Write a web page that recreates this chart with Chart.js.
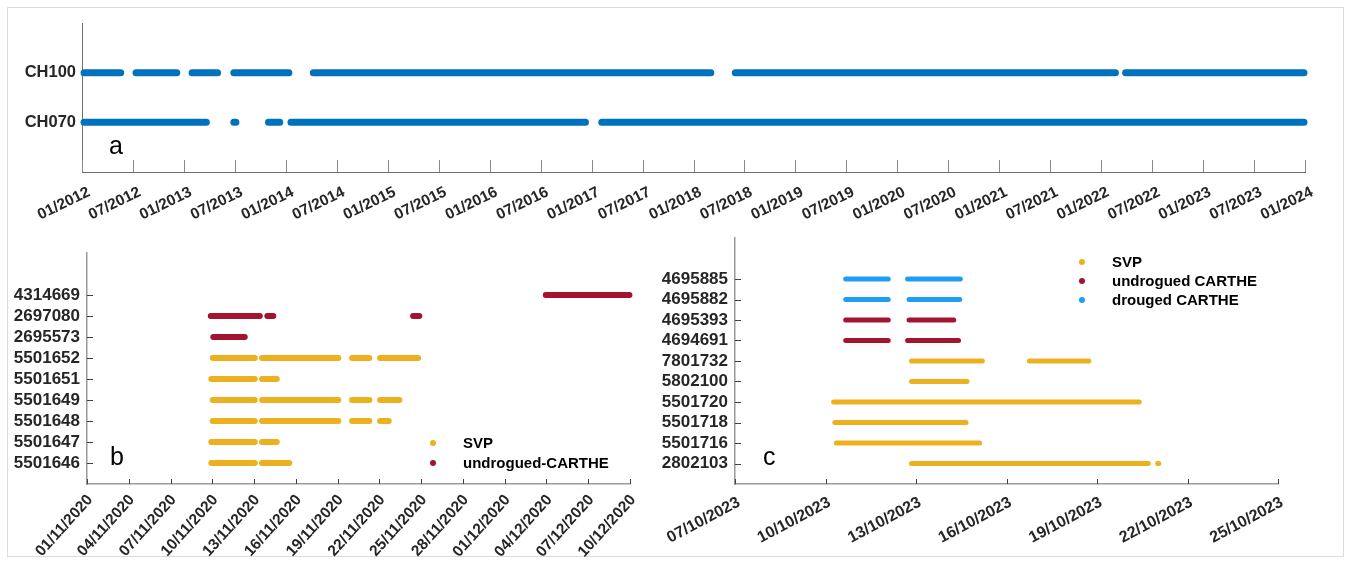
<!DOCTYPE html>
<html>
<head>
<meta charset="utf-8">
<title>Drifter and mooring record coverage</title>
<script src="https://cdn.jsdelivr.net/npm/chart.js@4.4.1/dist/chart.umd.min.js"></script>
<style>
  html, body { margin: 0; padding: 0; background: #ffffff; }
  body { width: 1346px; height: 564px; position: relative; overflow: hidden; }
  #frame { position: absolute; left: 7px; top: 7px; width: 1337px; height: 550px;
           border: 1px solid #dcdcdc; box-sizing: border-box; }
  canvas { position: absolute; }
</style>
</head>
<body>
<div id="frame"></div>
<canvas id="chartA" width="1346" height="230" style="left:0;top:0"></canvas>
<canvas id="chartB" width="680" height="334" style="left:0;top:230px"></canvas>
<canvas id="chartC" width="746" height="334" style="left:600px;top:230px"></canvas>
<script>
// ---------- Panel a: mooring records (x in decimal years) ----------
const aRows = ['CH070', 'CH100'];                       // bottom to top
const ch070Segments = [[2012.02, 2013.22], [2013.49, 2013.51], [2013.83, 2013.94],
                       [2014.05, 2016.94], [2017.10, 2023.99]];
const ch100Segments = [[2012.02, 2012.38], [2012.53, 2012.93], [2013.08, 2013.33],
                       [2013.49, 2014.03], [2014.27, 2018.17], [2018.41, 2022.14],
                       [2022.24, 2023.99]];
const aTickLabels = ['01/2012', '07/2012', '01/2013', '07/2013', '01/2014', '07/2014',
                     '01/2015', '07/2015', '01/2016', '07/2016', '01/2017', '07/2017',
                     '01/2018', '07/2018', '01/2019', '07/2019', '01/2020', '07/2020',
                     '01/2021', '07/2021', '01/2022', '07/2022', '01/2023', '07/2023',
                     '01/2024'];

// ---------- Panel b: drifters, Nov–Dec 2020 (x in days since 01/11/2020) ----------
const bRows = ['5501646', '5501647', '5501648', '5501649', '5501651', '5501652',
               '2695573', '2697080', '4314669'];        // bottom to top
const bTypes = ['SVP', 'SVP', 'SVP', 'SVP', 'SVP', 'SVP',
                'undrogued', 'undrogued', 'undrogued'];
const bSegments = [
  [[8.93, 12.05], [12.57, 14.53]],
  [[8.93, 12.05], [12.57, 13.63]],
  [[9.03, 12.05], [12.57, 18.05], [19.04, 20.28], [21.05, 21.67]],
  [[9.03, 12.05], [12.57, 18.05], [19.04, 20.28], [21.05, 22.44]],
  [[8.93, 12.05], [12.57, 13.63]],
  [[9.03, 12.05], [12.57, 18.05], [19.04, 20.28], [21.05, 23.78]],
  [[9.07, 11.33]],
  [[8.89, 12.41], [12.95, 13.38], [23.42, 23.87]],
  [[32.95, 38.96]]
];
const bTickLabels = ['01/11/2020', '04/11/2020', '07/11/2020', '10/11/2020', '13/11/2020',
                     '16/11/2020', '19/11/2020', '22/11/2020', '25/11/2020', '28/11/2020',
                     '01/12/2020', '04/12/2020', '07/12/2020', '10/12/2020'];
const bLegendLabels = ['SVP', 'undrogued-CARTHE'];
const bLegendTypes = ['SVP', 'undrogued'];

// ---------- Panel c: drifters, Oct 2023 (x in days since 07/10/2023) ----------
const cRows = ['2802103', '5501716', '5501718', '5501720', '5802100', '7801732',
               '4694691', '4695393', '4695882', '4695885']; // bottom to top
const cTypes = ['SVP', 'SVP', 'SVP', 'SVP', 'SVP', 'SVP',
                'undrogued', 'undrogued', 'drouged', 'drouged'];
const cSegments = [
  [[5.85, 13.70], [14.01, 14.05]],
  [[3.36, 8.11]],
  [[3.31, 7.66]],
  [[3.27, 13.40]],
  [[5.85, 7.69]],
  [[5.85, 8.20], [9.76, 11.73]],
  [[3.67, 5.08], [5.72, 7.41]],
  [[3.67, 5.08], [5.77, 7.25]],
  [[3.67, 5.08], [5.77, 7.45]],
  [[3.67, 5.08], [5.72, 7.47]]
];
const cTickLabels = ['07/10/2023', '10/10/2023', '13/10/2023', '16/10/2023',
                     '19/10/2023', '22/10/2023', '25/10/2023'];
const cLegendLabels = ['SVP', 'undrogued CARTHE', 'drouged CARTHE'];
const cLegendTypes = ['SVP', 'undrogued', 'drouged'];

// ---------- styling ----------
const typeColors = { SVP: '#EDB120', undrogued: '#A2142F', drouged: '#1E9EF2', mooring: '#0072BD' };
const FONT = '"Liberation Sans", Arial, Helvetica, sans-serif';
const TEXT = '#262626';
Chart.defaults.font.family = FONT;
Chart.defaults.color = TEXT;

// One line dataset per row; segments are separated by null gaps.
function rowDataset(label, segments, rowValue, color, width) {
  const data = [];
  segments.forEach(([s, e], i) => {
    if (i > 0) data.push({ x: s, y: null });
    data.push({ x: s, y: rowValue }, { x: e, y: rowValue });
  });
  return {
    label, data,
    borderColor: color, backgroundColor: color,
    borderWidth: width, borderCapStyle: 'round', borderJoinStyle: 'round',
    pointRadius: 0, pointHoverRadius: 0, fill: false, tension: 0,
    spanGaps: false, clip: false
  };
}

// Tick marks drawn inward from the axes.
const inwardTicks = {
  id: 'inwardTicks',
  beforeDatasetsDraw(chart, args, opts) {
    const { ctx, chartArea } = chart;
    ctx.save();
    ctx.strokeStyle = opts.color;
    ctx.lineWidth = 1;
    const xs = chart.scales.x;
    xs.ticks.forEach(t => {
      const px = Math.round(xs.getPixelForValue(t.value)) + 0.5;
      ctx.beginPath();
      ctx.moveTo(px, chartArea.bottom);
      ctx.lineTo(px, chartArea.bottom - opts.xLen);
      ctx.stroke();
    });
    if (opts.yLen) {
      const ys = chart.scales.y;
      ys.ticks.forEach(t => {
        const py = Math.round(ys.getPixelForValue(t.value)) + 0.5;
        ctx.beginPath();
        ctx.moveTo(chartArea.left, py);
        ctx.lineTo(chartArea.left + opts.yLen, py);
        ctx.stroke();
      });
    }
    ctx.restore();
  }
};

// Panel letter and marker legend inside the plot area.
const panelText = {
  id: 'panelText',
  afterDraw(chart, args, opts) {
    const { ctx, chartArea } = chart;
    ctx.save();
    ctx.fillStyle = '#000';
    ctx.font = '25px ' + FONT;
    ctx.textBaseline = 'alphabetic';
    ctx.textAlign = 'left';
    ctx.fillText(opts.letter, chartArea.left + opts.letterDx, chartArea.bottom + opts.letterDy);
    if (opts.legend) {
      const L = opts.legend;
      ctx.font = 'bold 15px ' + FONT;
      ctx.textBaseline = 'middle';
      L.labels.forEach((lab, i) => {
        const mx = chartArea.left + L.dx;
        const my = chartArea.top + L.dy + i * L.gap;
        ctx.fillStyle = typeColors[L.types[i]];
        ctx.beginPath();
        ctx.arc(mx, my, 3, 0, Math.PI * 2);
        ctx.fill();
        ctx.fillStyle = '#000';
        ctx.fillText(lab, mx + L.textDx, my + 1);
      });
    }
    ctx.restore();
  }
};

function makeChart(id, cfg) {
  const xMax = cfg.xMin + (cfg.xLabels.length - 1) * cfg.xStep;
  return new Chart(document.getElementById(id), {
    type: 'line',
    data: { datasets: cfg.datasets },
    options: {
      responsive: false,
      animation: false,
      events: [],
      layout: { padding: cfg.padding },
      plugins: {
        legend: { display: false },
        tooltip: { enabled: false },
        inwardTicks: cfg.ticks,
        panelText: cfg.text
      },
      scales: {
        x: {
          type: 'linear', min: cfg.xMin, max: xMax,
          afterBuildTicks: s => { s.ticks = cfg.xLabels.map((_, i) => ({ value: cfg.xMin + i * cfg.xStep })); },
          afterFit: s => { s.height = cfg.xAxisHeight; s.paddingLeft = 0; s.paddingRight = 0; },
          grid: { display: false, drawTicks: false },
          border: { display: true, color: cfg.axisColor, width: cfg.axisWidth },
          ticks: {
            autoSkip: false, minRotation: cfg.rotation, maxRotation: cfg.rotation,
            padding: cfg.xPad, labelOffset: cfg.xShift, color: TEXT,
            font: { size: cfg.xFontSize, weight: 'bold' },
            callback: (v, i) => cfg.xLabels[i]
          }
        },
        y: {
          type: 'linear', min: 0, max: cfg.yMax,
          afterBuildTicks: s => { s.ticks = cfg.rows.map((_, i) => ({ value: i + 1 })); },
          afterFit: s => { s.width = cfg.yAxisWidth; s.paddingTop = 0; s.paddingBottom = 0; },
          grid: { display: false, drawTicks: false },
          border: { display: true, color: cfg.axisColor, width: cfg.axisWidth },
          ticks: {
            padding: cfg.yPad, color: TEXT,
            font: { size: cfg.yFontSize, weight: 'bold' },
            callback: (v, i) => cfg.rows[i]
          }
        }
      }
    },
    plugins: [inwardTicks, panelText]
  });
}

// Panel a
makeChart('chartA', {
  datasets: [
    rowDataset('CH070', ch070Segments, 1, typeColors.mooring, 7),
    rowDataset('CH100', ch100Segments, 2, typeColors.mooring, 7)
  ],
  rows: aRows, yMax: 3,
  xMin: 2012, xStep: 0.5, xLabels: aTickLabels,
  padding: { top: 23, right: 41, left: 0, bottom: 0 },
  xAxisHeight: 58, yAxisWidth: 82,
  rotation: 26, xPad: 11, xShift: 7, xFontSize: 15.5, yFontSize: 16.5, yPad: 6,
  axisColor: '#6e6e6e', axisWidth: 1,
  ticks: { color: '#8a8a8a', xLen: 12, yLen: 0 },
  text: { letter: 'a', letterDx: 27, letterDy: -18 }
});

// Panel b
makeChart('chartB', {
  datasets: bRows.map((r, i) => rowDataset(r, bSegments[i], i + 1, typeColors[bTypes[i]], 6)),
  rows: bRows, yMax: 11,
  xMin: 0, xStep: 3, xLabels: bTickLabels,
  padding: { top: 23, right: 50, left: 0, bottom: 0 },
  xAxisHeight: 80, yAxisWidth: 87,
  rotation: 48, xPad: 7, xShift: 3, xFontSize: 15.5, yFontSize: 17, yPad: 7,
  axisColor: '#9a9a9a', axisWidth: 1.5,
  ticks: { color: '#404040', xLen: 5, yLen: 6 },
  text: {
    letter: 'b', letterDx: 23, letterDy: -19,
    legend: { labels: bLegendLabels, types: bLegendTypes, dx: 346, dy: 190, gap: 20, textDx: 30 }
  }
});

// Panel c
makeChart('chartC', {
  datasets: cRows.map((r, i) => rowDataset(r, cSegments[i], i + 1, typeColors[cTypes[i]], 5)),
  rows: cRows, yMax: 12,
  xMin: 0, xStep: 3, xLabels: cTickLabels,
  padding: { top: 8, right: 68, left: 0, bottom: 0 },
  xAxisHeight: 80, yAxisWidth: 135,
  rotation: 28, xPad: 9, xShift: 4, xFontSize: 16, yFontSize: 17, yPad: 7,
  axisColor: '#9a9a9a', axisWidth: 1.5,
  ticks: { color: '#404040', xLen: 5, yLen: 6 },
  text: {
    letter: 'c', letterDx: 28, letterDy: -19,
    legend: { labels: cLegendLabels, types: cLegendTypes, dx: 347, dy: 24, gap: 19, textDx: 30 }
  }
});
</script>
</body>
</html>
